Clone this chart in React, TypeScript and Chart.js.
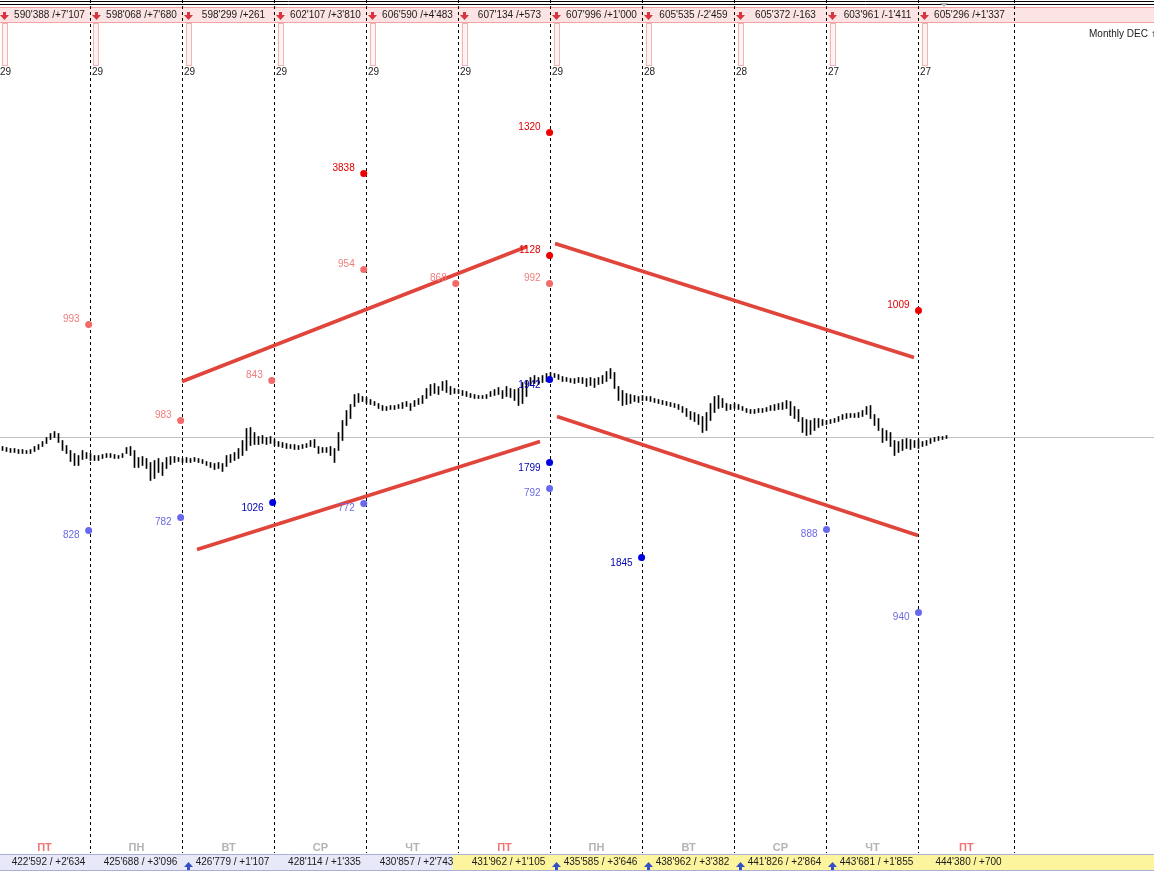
import React, { useEffect, useRef } from "react";
import { Chart, registerables } from "chart.js";

Chart.register(...registerables);

const WIDTH = 1154;
const HEIGHT = 873;

// ---- sessions (x axis in trading-day units) ----
const sessionStarts = [-1, 0, 1, 2, 3, 4, 5, 6, 7, 8, 9];
const sessionEnd = 10.04;
const dayNames = ["ПТ", "ПН", "ВТ", "СР", "ЧТ", "ПТ", "ПН", "ВТ", "СР", "ЧТ", "ПТ"];
const topStats = [
  "590'388 /+7'107", "598'068 /+7'680", "598'299 /+261", "602'107 /+3'810",
  "606'590 /+4'483", "607'134 /+573", "607'996 /+1'000", "605'535 /-2'459",
  "605'372 /-163", "603'961 /-1'411", "605'296 /+1'337",
];
const topCounts = ["29", "29", "29", "29", "29", "29", "29", "28", "28", "27", "27"];
const bottomStats = [
  "422'592 / +2'634", "425'688 / +3'096", "426'779 / +1'107", "428'114 / +1'335",
  "430'857 / +2'743", "431'962 / +1'105", "435'585 / +3'646", "438'962 / +3'382",
  "441'826 / +2'864", "443'681 / +1'855", "444'380 / +700",
];
const bottomArrowSessions = [1, 5, 6, 7, 8];
const yellowFromSession = 4;
const monthLabel = "Monthly DEC ↑";
const refLevel = 0;

// ---- price bars (high / low, 23 bars per session) ----
const barsPerSession = 23;
const firstBar = -22;
const hiA = [-9, -10, -11, -11, -12, -12, -13, -12, -9, -7, -4, 0, 4, 6, 4, -3, -8, -13, -16, -18, -13, -15, -16];
const loA = [-13, -14, -15, -15, -16, -16, -16, -16, -14, -12, -9, -6, -2, 0, -5, -13, -16, -24, -28, -28, -22, -21, -23];
const hiB = [-18, -18, -17, -16, -16, -17, -18, -16, -10, -9, -13, -20, -19, -21, -25, -23, -21, -25, -20, -19, -19, -20, -21];
const loB = [-23, -23, -21, -20, -20, -21, -21, -20, -16, -18, -30, -30, -28, -31, -43, -41, -35, -38, -31, -27, -25, -24, -25];
const hiC = [-20, -21, -20, -21, -22, -24, -25, -26, -25, -26, -18, -17, -15, -11, -3, 9, 10, 5, 1, 2, 0, 1, -2];
const loC = [-25, -25, -24, -25, -26, -28, -30, -32, -31, -34, -29, -25, -23, -21, -18, -13, -8, -7, -7, -6, -7, -6, -8];
const hiD = [-4, -5, -6, -7, -7, -8, -7, -6, -3, -2, -9, -10, -10, -9, -11, 5, 17, 27, 33, 43, 44, 41, 40];
const loD = [-9, -10, -11, -11, -12, -12, -11, -10, -9, -10, -16, -15, -15, -18, -25, -13, -3, 12, 19, 31, 35, 36, 34];
const hiE = [38, 36, 34, 32, 31, 32, 32, 33, 35, 36, 34, 37, 39, 42, 49, 53, 54, 51, 56, 57, 51, 49, 48];
const loE = [33, 32, 29, 27, 27, 28, 28, 29, 29, 31, 27, 31, 33, 34, 39, 42, 44, 43, 47, 45, 43, 44, 44];
const hiF = [47, 46, 44, 43, 42, 42, 43, 46, 48, 50, 47, 51, 49, 48, 49, 55, 57, 60, 62, 60, 62, 64, 65];
const loF = [42, 41, 40, 39, 39, 39, 39, 41, 42, 43, 39, 41, 40, 37, 32, 34, 41, 52, 54, 53, 55, 56, 59];
const hiG = [64, 63, 61, 60, 59, 59, 60, 60, 59, 60, 59, 60, 62, 66, 69, 65, 51, 47, 44, 43, 42, 41, 42];
const loG = [60, 58, 56, 56, 55, 54, 55, 54, 51, 52, 50, 53, 54, 56, 59, 49, 37, 32, 33, 34, 36, 35, 37];
const hiH = [41, 41, 39, 38, 37, 36, 35, 34, 33, 31, 29, 26, 25, 23, 21, 25, 34, 41, 42, 39, 34, 33, 34];
const loH = [37, 36, 35, 34, 33, 32, 31, 30, 28, 25, 21, 18, 16, 13, 5, 7, 17, 25, 29, 30, 27, 28, 29];
const hiI = [33, 31, 29, 28, 28, 29, 29, 30, 32, 33, 34, 35, 37, 36, 31, 28, 20, 18, 17, 19, 19, 18, 17];
const loI = [28, 27, 25, 24, 24, 25, 25, 26, 27, 27, 28, 28, 29, 22, 19, 16, 5, 2, 3, 7, 10, 12, 13];
const hiJ = [18, 19, 21, 23, 24, 24, 24, 25, 27, 31, 32, 23, 19, 9, 7, 5, -3, -4, -2, -1, -2, -3, -2];
const loJ = [14, 15, 16, 18, 19, 20, 20, 20, 21, 23, 19, 12, 7, -5, -3, -9, -18, -15, -13, -11, -12, -10, -11];
const hiK = [-4, -3, -1, 0, 1, 1, 2];
const loK = [-9, -8, -6, -4, -3, -2, -1];

// ---- trend lines [session, level] ----
const trendUpLeft = [[0.995, 56], [4.745, 191]];
const trendLowLeft = [[1.158, -112], [4.886, -4]];
const trendUpRight = [[5.049, 194], [8.951, 80]];
const trendLowRight = [[5.071, 21], [8.995, -98]];

// ---- marked levels ----
const pinkX = [-0.02, 0.98, 1.97, 2.97, 3.97, 4.99];
const pinkY = [113, 17, 57, 168, 154, 154];
const pinkLabels = ["993", "983", "843", "954", "868", "992"];
const redX = [2.97, 4.99, 4.99, 9.0];
const redY = [264, 305, 182, 127];
const redLabels = ["3838", "1320", "1128", "1009"];
const lilacX = [-0.02, 0.98, 2.97, 4.99, 8.0, 9.0];
const lilacY = [-93, -80, -66, -51, -92, -175];
const lilacLabels = ["828", "782", "772", "792", "888", "940"];
const navyX = [1.98, 4.99, 4.99, 5.99];
const navyY = [-65, -25, 58, -120];
const navyLabels = ["1026", "1799", "1942", "1845"];

const FONT = "'Liberation Sans', Arial, sans-serif";

const pts = (xs: number[], ys: number[]) => xs.map((x, i) => ({ x, y: ys[i] }));

function downArrow(ctx: CanvasRenderingContext2D, cx: number, top: number, color: string) {
  ctx.fillStyle = color;
  ctx.beginPath();
  ctx.moveTo(cx - 1.5, top);
  ctx.lineTo(cx + 1.5, top);
  ctx.lineTo(cx + 1.5, top + 3);
  ctx.lineTo(cx + 4.5, top + 3);
  ctx.lineTo(cx, top + 8);
  ctx.lineTo(cx - 4.5, top + 3);
  ctx.lineTo(cx - 1.5, top + 3);
  ctx.closePath();
  ctx.fill();
}

function upArrow(ctx: CanvasRenderingContext2D, cx: number, top: number, color: string) {
  ctx.fillStyle = color;
  ctx.beginPath();
  ctx.moveTo(cx, top);
  ctx.lineTo(cx + 4.5, top + 5);
  ctx.lineTo(cx + 1.5, top + 5);
  ctx.lineTo(cx + 1.5, top + 8);
  ctx.lineTo(cx - 1.5, top + 8);
  ctx.lineTo(cx - 1.5, top + 5);
  ctx.lineTo(cx - 4.5, top + 5);
  ctx.closePath();
  ctx.fill();
}

const decor = {
  id: "decor",
  beforeDraw(chart: any) {
    const ctx = chart.ctx;
    ctx.save();
    ctx.fillStyle = "#ffffff";
    ctx.fillRect(0, 0, chart.width, chart.height);
    ctx.restore();
  },
  beforeDatasetsDraw(chart: any) {
    const ctx: CanvasRenderingContext2D = chart.ctx;
    const xs = chart.scales.x;
    const ys = chart.scales.y;
    const w = chart.width;
    ctx.save();

    // reference level
    const yRef = ys.getPixelForValue(refLevel);
    ctx.strokeStyle = "#c2c2c2";
    ctx.lineWidth = 1;
    ctx.beginPath();
    ctx.moveTo(0, yRef);
    ctx.lineTo(w, yRef);
    ctx.stroke();

    // top frame lines
    ctx.strokeStyle = "#000";
    ctx.beginPath();
    ctx.moveTo(0, 1.5);
    ctx.lineTo(w, 1.5);
    ctx.moveTo(0, 4.5);
    ctx.lineTo(w, 4.5);
    ctx.stroke();

    // pink header band
    ctx.fillStyle = "#fde4e4";
    ctx.fillRect(0, 7, w, 15);
    ctx.strokeStyle = "#f2a4a4";
    ctx.beginPath();
    ctx.moveTo(0, 7.5);
    ctx.lineTo(w, 7.5);
    ctx.moveTo(0, 22.5);
    ctx.lineTo(w, 22.5);
    ctx.stroke();

    // bottom band
    const yellowX = xs.getPixelForValue(sessionStarts[yellowFromSession + 1]) - 6;
    ctx.fillStyle = "#e7e9f8";
    ctx.fillRect(0, 855, yellowX, 15);
    ctx.fillStyle = "#fdf59e";
    ctx.fillRect(yellowX, 855, w - yellowX, 15);
    ctx.strokeStyle = "#a9afd6";
    ctx.beginPath();
    ctx.moveTo(0, 854.5);
    ctx.lineTo(w, 854.5);
    ctx.moveTo(0, 870.5);
    ctx.lineTo(w, 870.5);
    ctx.stroke();

    // dashed session separators
    ctx.strokeStyle = "#000";
    ctx.setLineDash([3, 3]);
    const seps = [...sessionStarts.slice(1), sessionEnd];
    seps.forEach((b) => {
      const px = Math.round(xs.getPixelForValue(b) - 0.5) + 0.5;
      ctx.beginPath();
      ctx.moveTo(px, 0);
      ctx.lineTo(px, 853);
      ctx.stroke();
    });
    ctx.setLineDash([]);

    // tiny marker on top border
    ctx.fillStyle = "#b0b0b0";
    ctx.beginPath();
    ctx.moveTo(940, 3);
    ctx.lineTo(948, 3);
    ctx.lineTo(944, 7);
    ctx.closePath();
    ctx.fill();

    // per-session header / footer
    ctx.textBaseline = "middle";
    sessionStarts.forEach((s, i) => {
      const bx = xs.getPixelForValue(s);
      const nx = xs.getPixelForValue(i + 1 < sessionStarts.length ? sessionStarts[i + 1] : sessionEnd);
      downArrow(ctx, bx + 6, 12, "#d8343f");
      ctx.font = `10px ${FONT}`;
      ctx.fillStyle = "#1a1a1a";
      ctx.textAlign = "center";
      ctx.fillText(topStats[i], bx + 51, 15);
      ctx.fillStyle = "#fff2f2";
      ctx.fillRect(bx + 3, 23, 5, 43);
      ctx.strokeStyle = "#f3b2b2";
      ctx.strokeRect(Math.round(bx + 3) + 0.5, 23.5, 5, 42);
      ctx.fillStyle = "#1a1a1a";
      ctx.textAlign = "left";
      ctx.fillText(topCounts[i], bx + 1.5, 72);
      ctx.font = `bold 11px ${FONT}`;
      ctx.textAlign = "center";
      ctx.fillStyle = dayNames[i] === "ПТ" ? "#f07474" : "#b4b4b4";
      ctx.fillText(dayNames[i], (bx + nx) / 2, 848);
      ctx.font = `10px ${FONT}`;
      ctx.fillStyle = "#1a1a1a";
      ctx.fillText(bottomStats[i], bx + 50, 862.5);
      if (bottomArrowSessions.includes(s)) upArrow(ctx, bx + 6, 862, "#3550c4");
    });

    ctx.font = `10px ${FONT}`;
    ctx.fillStyle = "#1a1a1a";
    ctx.textAlign = "left";
    ctx.fillText(monthLabel, 1089, 34);

    ctx.restore();
  },
  afterDatasetsDraw(chart: any) {
    const ctx: CanvasRenderingContext2D = chart.ctx;
    ctx.save();
    ctx.font = `10px ${FONT}`;
    ctx.textAlign = "right";
    ctx.textBaseline = "middle";
    chart.data.datasets.forEach((ds: any, i: number) => {
      if (!ds.pointTexts) return;
      const meta = chart.getDatasetMeta(i);
      ctx.fillStyle = ds.textColor;
      meta.data.forEach((el: any, j: number) => {
        ctx.fillText(ds.pointTexts[j], el.x - 9, el.y + ds.textDy);
      });
    });
    ctx.restore();
  },
};

export default function App() {
  const ref = useRef<HTMLCanvasElement | null>(null);

  useEffect(() => {
    document.body.style.margin = "0";
    const canvas = ref.current;
    if (!canvas) return;

    const barHigh = [...hiA, ...hiB, ...hiC, ...hiD, ...hiE, ...hiF, ...hiG, ...hiH, ...hiI, ...hiJ, ...hiK];
    const barLow = [...loA, ...loB, ...loC, ...loD, ...loE, ...loF, ...loG, ...loH, ...loI, ...loJ, ...loK];
    const barData = barHigh.map((h, i) => ({ x: (firstBar + i) / barsPerSession, y: [barLow[i], h] }));

    const pxPerSession = 92;
    const xMin = -90.5 / pxPerSession;
    const xMax = xMin + WIDTH / pxPerSession;
    const yMax = 437.5;
    const yMin = yMax - HEIGHT;

    const trend = (p: number[][]) => ({
      type: "line" as const,
      data: p.map(([x, y]) => ({ x, y })),
      borderColor: "#e0443a",
      borderWidth: 3.5,
      pointRadius: 0,
      fill: false,
      tension: 0,
      order: 1,
    });

    const dots = (xs: number[], ys: number[], labels: string[], color: string, textColor: string, textDy: number) => ({
      type: "scatter" as const,
      data: pts(xs, ys),
      backgroundColor: color,
      borderWidth: 0,
      pointRadius: 3.5,
      order: 0,
      pointTexts: labels,
      textColor,
      textDy,
    });

    const chart = new Chart(canvas, {
      type: "bar",
      data: {
        datasets: [
          dots(redX, redY, redLabels, "#ee0000", "#e00000", -5) as any,
          dots(pinkX, pinkY, pinkLabels, "#f26a6a", "#f07c7c", -5) as any,
          dots(navyX, navyY, navyLabels, "#0000e0", "#0000b4", 6) as any,
          dots(lilacX, lilacY, lilacLabels, "#6868ee", "#6a6ae2", 5) as any,
          trend(trendUpLeft) as any,
          trend(trendLowLeft) as any,
          trend(trendUpRight) as any,
          trend(trendLowRight) as any,
          {
            type: "bar",
            data: barData as any,
            backgroundColor: "#000000",
            borderWidth: 0,
            barThickness: 1,
            grouped: false,
            order: 2,
          } as any,
        ],
      },
      options: {
        responsive: false,
        animation: false,
        devicePixelRatio: 1,
        events: [],
        layout: { padding: 0, autoPadding: false },
        plugins: { legend: { display: false }, tooltip: { enabled: false } },
        scales: {
          x: { type: "linear", min: xMin, max: xMax, display: false, offset: false },
          y: { type: "linear", min: yMin, max: yMax, display: false },
        },
      },
      plugins: [decor],
    });

    return () => chart.destroy();
  }, []);

  return <canvas ref={ref} width={WIDTH} height={HEIGHT} style={{ display: "block" }} />;
}
